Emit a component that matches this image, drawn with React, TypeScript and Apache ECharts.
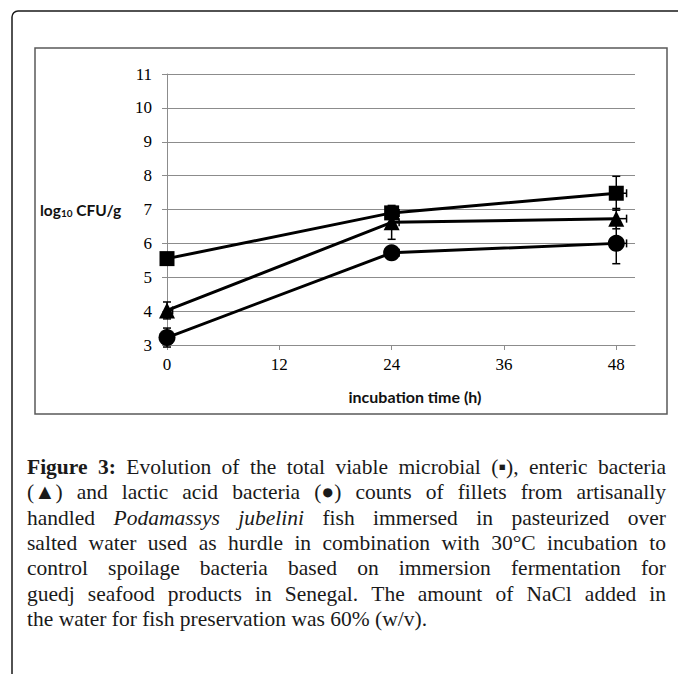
import React, { useEffect, useRef } from "react";
import * as echarts from "echarts";

// Incubation times (h)
const times = [0, 24, 48];
// log10 CFU/g counts
const totalViable = [5.55, 6.9, 7.48];
const enteric = [4.02, 6.62, 6.73];
const lacticAcid = [3.22, 5.72, 6.0];
// standard deviations (vertical) for each series
const totalErr = [0.12, 0.15, 0.5];
const entericErr = [0.25, 0.5, 0.3];
const lacticErr = [0.28, 0.12, 0.6];
// horizontal error bars (h)
const timeErr = [0.6, 0.8, 1.1];

const xTicks = [0, 12, 24, 36, 48];

type Seg = { t: string; bold?: boolean; italic?: boolean };
const captionLines: Seg[][] = [
  [{ t: "Figure 3:", bold: true }, { t: "Evolution of the total viable microbial (▪), enteric bacteria" }],
  [{ t: "(▲) and lactic acid bacteria (●) counts of fillets from artisanally" }],
  [{ t: "handled" }, { t: "Podamassys jubelini", italic: true }, { t: "fish immersed in pasteurized over" }],
  [{ t: "salted water used as hurdle in combination with 30°C incubation to" }],
  [{ t: "control spoilage bacteria based on immersion fermentation for" }],
  [{ t: "guedj seafood products in Senegal. The amount of NaCl added in" }],
  [{ t: "the water for fish preservation was 60% (w/v)." }],
];

const CAP_FONT = '"Liberation Serif", "DejaVu Serif", serif';
const CAP_SIZE = 21.5;

function captionGraphics(): any[] {
  const canvas = document.createElement("canvas");
  const ctx = canvas.getContext("2d")!;
  const fontOf = (s: Seg) =>
    `${s.italic ? "italic " : ""}${s.bold ? "bold " : ""}${CAP_SIZE}px ${CAP_FONT}`;
  const left = 27;
  const right = 666;
  const top = 467;
  const lineGap = 25.3;
  const out: any[] = [];
  captionLines.forEach((segs, li) => {
    const words: { w: string; s: Seg; width: number }[] = [];
    segs.forEach((s) => {
      s.t.split(" ").forEach((w) => {
        ctx.font = fontOf(s);
        words.push({ w, s, width: ctx.measureText(w).width });
      });
    });
    ctx.font = fontOf({ t: "" });
    const space = ctx.measureText(" ").width;
    const total = words.reduce((a, b) => a + b.width, 0);
    const last = li === captionLines.length - 1;
    const gap = last ? space : (right - left - total) / (words.length - 1);
    let x = left;
    const y = top + li * lineGap;
    words.forEach((wd) => {
      out.push({
        type: "text",
        x,
        y,
        style: {
          text: wd.w,
          fontSize: CAP_SIZE,
          fontFamily: CAP_FONT,
          fontWeight: wd.s.bold ? "bold" : "normal",
          fontStyle: wd.s.italic ? "italic" : "normal",
          fill: "#1a1a1a",
          verticalAlign: "middle",
        },
      });
      x += wd.width + gap;
    });
  });
  return out;
}

function errorData(ys: number[], errs: number[]) {
  return times.map((t, i) => [t, ys[i], errs[i], timeErr[i]]);
}

export default function App() {
  const ref = useRef<HTMLDivElement>(null);

  useEffect(() => {
    document.body.style.margin = "0";
    const chart = echarts.init(ref.current!, null, { renderer: "svg" });

    const lineSeries = (name: string, ys: number[], symbol: string, size: number) => ({
      name,
      type: "line",
      data: times.map((t, i) => [t, ys[i]]),
      symbol,
      symbolSize: size,
      lineStyle: { color: "#000", width: 3 },
      itemStyle: { color: "#000" },
      z: 3,
    });

    const errSeries = (data: number[][]) => ({
      type: "custom",
      data,
      encode: { x: 0, y: 1 },
      clip: false,
      z: 4,
      renderItem: (params: any, api: any) => {
        const x = api.value(0);
        const y = api.value(1);
        const ey = api.value(2);
        const ex = api.value(3);
        const top = api.coord([x, y + ey]);
        const bot = api.coord([x, y - ey]);
        const c = api.coord([x, y]);
        const r = api.coord([x + ex, y]);
        const st = { stroke: "#000", lineWidth: 1.5 };
        const cap = 4;
        return {
          type: "group",
          children: [
            { type: "line", shape: { x1: top[0], y1: top[1], x2: bot[0], y2: bot[1] }, style: st },
            { type: "line", shape: { x1: top[0] - cap, y1: top[1], x2: top[0] + cap, y2: top[1] }, style: st },
            { type: "line", shape: { x1: bot[0] - cap, y1: bot[1], x2: bot[0] + cap, y2: bot[1] }, style: st },
            { type: "line", shape: { x1: c[0], y1: c[1], x2: r[0], y2: r[1] }, style: st },
            { type: "line", shape: { x1: r[0], y1: r[1] - cap, x2: r[0], y2: r[1] + cap }, style: st },
          ],
        };
      },
    });

    const tickFont = {
      fontSize: 17,
      fontFamily: '"Liberation Serif", serif',
      color: "#000",
    };

    chart.setOption({
      animation: false,
      backgroundColor: "#fff",
      grid: { left: 167, top: 74, width: 468, height: 271 },
      xAxis: {
        type: "value",
        min: 0,
        max: 50,
        interval: 12,
        splitLine: { show: false },
        axisLine: { lineStyle: { color: "#8c8c8c", width: 1 } },
        axisTick: { show: true, length: 5, customValues: xTicks, lineStyle: { color: "#8c8c8c" } },
        axisLabel: { customValues: xTicks, margin: 11, ...tickFont },
      },
      yAxis: {
        type: "value",
        min: 3,
        max: 11,
        interval: 1,
        splitLine: { lineStyle: { color: "#8c8c8c", width: 1 } },
        axisLine: { show: true, lineStyle: { color: "#8c8c8c", width: 1 } },
        axisTick: { show: true, length: 5, lineStyle: { color: "#8c8c8c" } },
        axisLabel: { margin: 15, ...tickFont },
      },
      graphic: [
        {
          type: "rect",
          shape: { x: 12, y: 11, width: 720, height: 720, r: 6 },
          style: { fill: "none", stroke: "#1a1a1a", lineWidth: 1.5 },
          z: 0,
        },
        {
          type: "rect",
          shape: { x: 35, y: 48, width: 632, height: 366 },
          style: { fill: "none", stroke: "#5a5a5a", lineWidth: 1.5 },
          z: 0,
        },
        {
          type: "text",
          x: 40,
          y: 210,
          style: {
            text: "{a|log}{b|10}{a| CFU/g}",
            verticalAlign: "middle",
            rich: {
              a: { fontSize: 15.5, fontWeight: "bold", fontFamily: "Lato, sans-serif", fill: "#111" },
              b: {
                fontSize: 10,
                fontWeight: "bold",
                fontFamily: "Lato, sans-serif",
                fill: "#111",
                padding: [6, 0, 0, 0],
              },
            },
          },
        },
        {
          type: "text",
          x: 415,
          y: 396,
          style: {
            text: "incubation time (h)",
            align: "center",
            verticalAlign: "middle",
            fontSize: 16,
            fontWeight: "bold",
            fontFamily: "Lato, sans-serif",
            fill: "#111",
          },
        },
        ...captionGraphics(),
      ],
      series: [
        lineSeries("total viable microbial", totalViable, "rect", 15),
        lineSeries("enteric bacteria", enteric, "triangle", 16),
        lineSeries("lactic acid bacteria", lacticAcid, "circle", 17),
        errSeries(errorData(totalViable, totalErr)),
        errSeries(errorData(enteric, entericErr)),
        errSeries(errorData(lacticAcid, lacticErr)),
      ],
    });

    return () => chart.dispose();
  }, []);

  return (
    <div
      ref={ref}
      style={{ position: "fixed", left: 0, top: 0, width: 678, height: 674 }}
    />
  );
}
